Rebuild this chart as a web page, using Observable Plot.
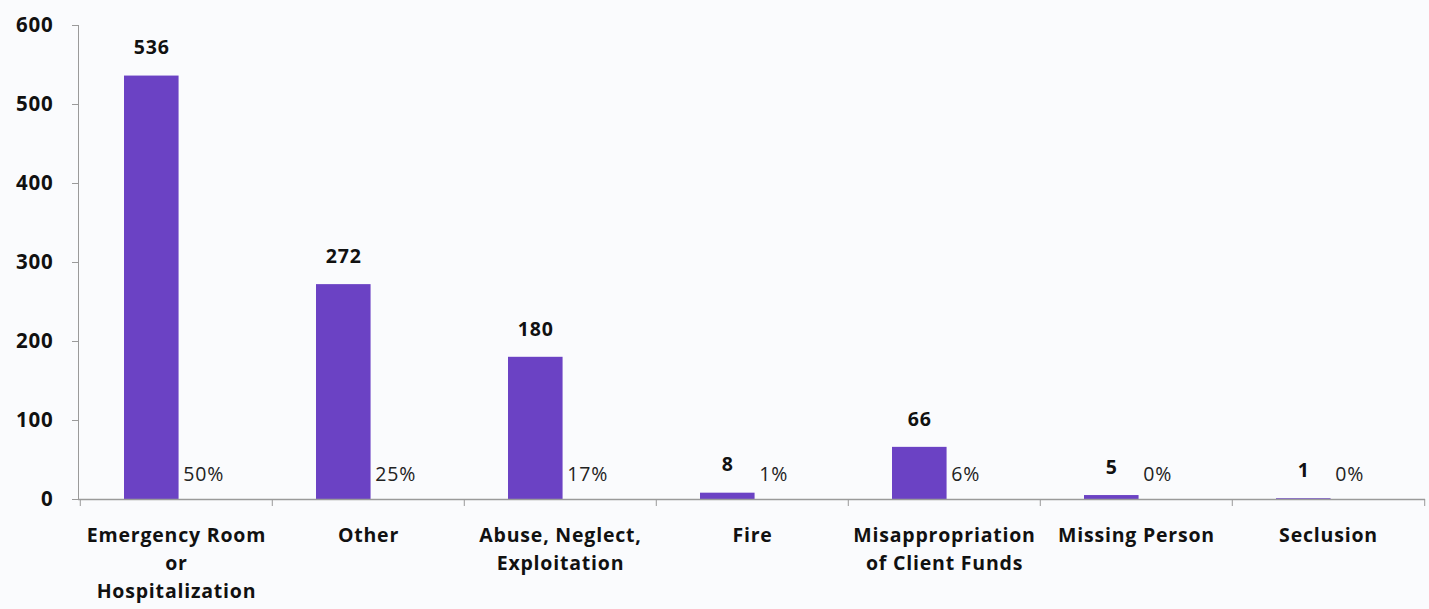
<!DOCTYPE html>
<html>
<head>
<meta charset="utf-8">
<script src="https://cdn.jsdelivr.net/npm/d3@7"></script>
<script src="https://cdn.jsdelivr.net/npm/@observablehq/plot@0.6"></script>
<style>
  html, body { margin: 0; padding: 0; background: #fafbfd; }
  #chart svg { display: block; }
  #chart svg text { letter-spacing: 0.8px; }
</style>
</head>
<body>
<div id="chart"></div>
<script>
const categories = [
  "Emergency Room\nor\nHospitalization",
  "Other",
  "Abuse, Neglect,\nExploitation",
  "Fire",
  "Misappropriation\nof Client Funds",
  "Missing Person",
  "Seclusion"
];
const counts = [536, 272, 180, 8, 66, 5, 1];
const percents = ["50%", "25%", "17%", "1%", "6%", "0%", "0%"];
const yTicks = [0, 100, 200, 300, 400, 500, 600];

const data = categories.map((c, i) => ({category: c, count: counts[i], pct: percents[i]}));

const W = 1429, H = 609;
const mL = 78, mR = 4, mT = 25, mB = 110;
const bw = (W - mL - mR) / categories.length;
const barL = 44, barW = 55;
const barCenterDx = barL + barW / 2 - bw / 2;
const pctDx = barL + barW + 4 - bw / 2;
const font = "'Open Sans', sans-serif";
const gray = "#9a9a9a";

const chart = Plot.plot({
  width: W,
  height: H,
  marginLeft: mL,
  marginRight: mR,
  marginTop: mT,
  marginBottom: mB,
  style: {background: "transparent", fontFamily: font, color: "#111"},
  x: {domain: categories, paddingInner: 0, paddingOuter: 0},
  y: {domain: [0, 600]},
  marks: [
    Plot.frame({anchor: "left", stroke: gray}),
    Plot.axisY({ticks: yTicks, tickSize: 6, tickPadding: 19, stroke: gray, fontSize: 20.5, fontWeight: "bold", fill: "#111", label: null}),
    Plot.axisX({tickSize: 0, tickPadding: 23, fontSize: 19.5, fontWeight: "bold", fill: "#111", lineHeight: 1.42, label: null}),
    Plot.axisX({tickSize: 7, dx: -bw / 2, text: null, stroke: gray, label: null}),
    Plot.axisX({ticks: [categories[categories.length - 1]], tickSize: 7, dx: bw / 2, text: null, stroke: gray, label: null}),
    Plot.barY(data, {x: "category", y: "count", fill: "#6b42c4", insetLeft: barL, insetRight: bw - barL - barW}),
    Plot.ruleY([0], {stroke: gray, strokeWidth: 1.5}),
    Plot.text(data, {x: "category", y: "count", text: d => String(d.count), dx: barCenterDx, dy: -28, fontSize: 19.5, fontWeight: "bold", fill: "#111"}),
    Plot.text(data, {x: "category", text: "pct", frameAnchor: "bottom", dx: pctDx, dy: -19, textAnchor: "start", fontSize: 19.5, fill: "#222"})
  ]
});
document.getElementById("chart").appendChild(chart);
</script>
</body>
</html>
